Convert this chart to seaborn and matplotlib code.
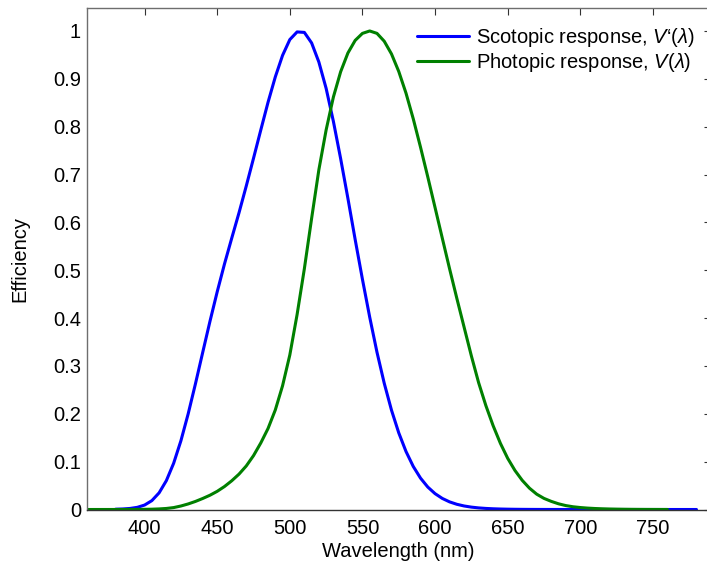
import numpy as np
import pandas as pd
import matplotlib
matplotlib.use("Agg")
import matplotlib.pyplot as plt
import seaborn as sns

# CIE 1951 scotopic luminous efficiency V'(lambda), 380-780 nm, 5 nm steps
scot_wl = list(range(380, 781, 5))
scot_val = [0.000589, 0.001108, 0.002209, 0.004530, 0.00929, 0.01852, 0.03484, 0.0604,
            0.0966, 0.1436, 0.1998, 0.2625, 0.3281, 0.3931, 0.455, 0.513, 0.567, 0.620,
            0.676, 0.734, 0.793, 0.851, 0.904, 0.949, 0.982, 0.998, 0.997, 0.975, 0.935,
            0.880, 0.811, 0.733, 0.650, 0.564, 0.481, 0.402, 0.3288, 0.2639, 0.2076,
            0.1602, 0.1212, 0.0899, 0.0655, 0.0469, 0.03315, 0.02312, 0.01593, 0.01088,
            0.00737, 0.00497, 0.003335, 0.002235, 0.001497, 0.001005, 0.000677, 0.000459,
            0.0003129, 0.0002146, 0.0001480, 0.0001026, 0.0000715, 0.0000501, 0.00003533,
            0.0000250, 0.0000178, 0.00001273, 0.00000914, 0.00000660, 0.00000478,
            0.000003482, 0.000002546, 0.000001870, 0.000001379, 0.00000102, 0.00000076,
            0.000000567, 0.000000425, 0.00000032, 0.00000024, 0.00000018, 0.00000014]

# CIE 1924 photopic luminous efficiency V(lambda), 360-760 nm, 5 nm steps
phot_wl = list(range(360, 761, 5))
phot_val = [0.0000039, 0.0000064, 0.000012, 0.0000217, 0.000039, 0.000064, 0.00012,
            0.000217, 0.000396, 0.00064, 0.00121, 0.00218, 0.004, 0.0073, 0.0116, 0.01684,
            0.023, 0.0298, 0.038, 0.048, 0.06, 0.0739, 0.09098, 0.1126, 0.13902, 0.1693,
            0.20802, 0.2586, 0.323, 0.4073, 0.503, 0.6082, 0.71, 0.7932, 0.862, 0.91485,
            0.954, 0.9803, 0.99495, 1.0, 0.995, 0.9786, 0.952, 0.9154, 0.87, 0.8163, 0.757,
            0.6949, 0.631, 0.5668, 0.503, 0.4412, 0.381, 0.321, 0.265, 0.217, 0.175, 0.1382,
            0.107, 0.0816, 0.061, 0.04458, 0.032, 0.0232, 0.017, 0.01192, 0.00821, 0.005723,
            0.004102, 0.002929, 0.002091, 0.001484, 0.001047, 0.00074, 0.00052, 0.000361,
            0.000249, 0.000172, 0.00012, 0.0000848, 0.00006]

x_ticks = [400, 450, 500, 550, 600, 650, 700, 750]
y_ticks = [0, 0.1, 0.2, 0.3, 0.4, 0.5, 0.6, 0.7, 0.8, 0.9, 1]
y_ticklabels = ["0", "0.1", "0.2", "0.3", "0.4", "0.5", "0.6", "0.7", "0.8", "0.9", "1"]

sns.set_style("white")
plt.rcParams["font.family"] = ["Liberation Sans", "DejaVu Sans"]
plt.rcParams["mathtext.fontset"] = "custom"
plt.rcParams["mathtext.it"] = "Liberation Sans:italic"
plt.rcParams["mathtext.rm"] = "Liberation Sans"
plt.rcParams["text.color"] = "black"
plt.rcParams["axes.labelcolor"] = "black"
plt.rcParams["xtick.color"] = "black"
plt.rcParams["ytick.color"] = "black"

FS = 14.5

fig = plt.figure(figsize=(7.07, 5.69), dpi=100)
ax = fig.add_axes([86.5 / 707, (569 - 509.5) / 569, (711 - 86.5) / 707, (509.5 - 8) / 569])

scot_df = pd.DataFrame({"wl": scot_wl, "v": scot_val})
phot_df = pd.DataFrame({"wl": phot_wl, "v": phot_val})

sns.lineplot(data=scot_df, x="wl", y="v", ax=ax, color="#0000ff", linewidth=2.2,
             label="Scotopic response, $\\mathit{V\u2018(\\lambda)}$")
sns.lineplot(data=phot_df, x="wl", y="v", ax=ax, color="#008000", linewidth=2.2,
             label="Photopic response, $\\mathit{V(\\lambda)}$")

ax.set_xlim(360, 790)
ax.set_ylim(0, 1.048)
ax.set_xticks(x_ticks)
ax.set_yticks(y_ticks)
ax.set_yticklabels(y_ticklabels)
ax.tick_params(direction="in", length=5, width=0.8, color="#333333", labelsize=FS,
               top=True, right=True)
ax.tick_params(axis="x", pad=7)
ax.tick_params(axis="y", pad=4)
ax.set_xlabel("Wavelength (nm)", fontsize=FS, labelpad=3)
ax.set_ylabel("Efficiency", fontsize=FS, labelpad=17)
for s in ax.spines.values():
    s.set_color("#6e6e6e")
    s.set_linewidth(1.0)
ax.spines["bottom"].set_color("#333333")

leg = ax.legend(loc="upper left", bbox_to_anchor=(417 / 707, 1 - 26 / 569),
                bbox_transform=fig.transFigure,
                frameon=False, fontsize=FS, handlelength=2.6, handletextpad=0.35,
                borderaxespad=0, borderpad=0, labelspacing=0.1)

fig.savefig("out.png", dpi=100)
